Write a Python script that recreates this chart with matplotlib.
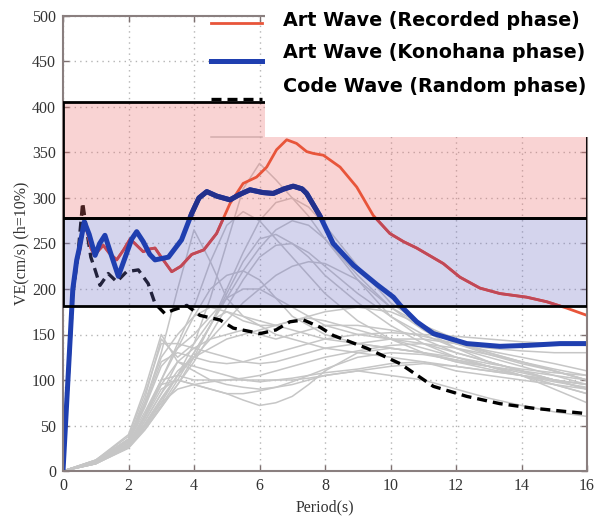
import matplotlib
matplotlib.use("Agg")
import matplotlib.pyplot as plt
from matplotlib.patches import Rectangle

# ---------------- data ----------------
red_T = [0, 0.15, 0.3, 0.42, 0.5, 0.64, 0.75, 0.85, 0.96, 1.1, 1.23, 1.4, 1.64, 1.85, 2.05, 2.25,
         2.45, 2.65, 2.81, 3.0, 3.32, 3.6, 3.93, 4.3, 4.69, 5.1, 5.5, 5.91, 6.22, 6.52, 6.83, 7.13,
         7.44, 7.64, 7.95, 8.46, 8.97, 9.47, 9.98, 10.4, 10.8, 11.61, 12.12, 12.73, 13.34, 14.16,
         14.77, 15.38, 16]
red_V = [0, 100, 195, 230, 240, 272, 262, 245, 237, 243, 248, 240, 232, 243, 255, 248,
         241, 244, 245, 235, 219, 225, 238, 243, 261, 294, 316, 323, 334, 353, 364, 360,
         351, 349, 347, 334, 312, 281, 261, 252, 245, 228, 213, 201, 195, 191,
         186, 179, 171]

blue_T = [0, 0.15, 0.3, 0.42, 0.5, 0.65, 0.8, 0.98, 1.12, 1.28, 1.45, 1.69, 1.9, 2.1, 2.25, 2.45,
          2.65, 2.81, 3.22, 3.62, 3.93, 4.15, 4.39, 4.7, 5.1, 5.4, 5.71, 6.1, 6.42, 6.75, 7.03,
          7.3, 7.44, 7.85, 8.25, 8.87, 9.58, 10.09, 10.3, 10.8, 11.31, 12.33, 13.34, 14.16,
          15.18, 16]
blue_V = [0, 100, 200, 232, 245, 274, 260, 237, 250, 259, 240, 214, 235, 255, 263, 252,
          238, 232, 235, 254, 283, 300, 307, 302, 298, 304, 309, 306, 305, 310, 313,
          310, 305, 280, 250, 226, 205, 191, 182, 164, 151, 140, 137, 138,
          140, 140]

code_T = [0, 0.3, 0.45, 0.6, 0.7, 0.85, 0.98, 1.13, 1.38, 1.64, 1.94, 2.3, 2.6, 2.81, 3.11, 3.37,
          3.78, 4.18, 4.79, 5.2, 6.02, 6.5, 6.93, 7.34, 7.85, 8.25, 9.27, 10.29, 11.31, 12.33,
          13.34, 14.36, 16]
code_V = [0, 195, 235, 295, 270, 235, 221, 204, 217, 208, 219, 221, 206, 184, 173, 177,
          182, 171, 166, 157, 151, 155, 164, 166, 158, 149, 135, 118, 93, 82,
          74, 69, 63]

gray_T = [0, 1, 2, 2.5, 3, 3.5, 4, 4.5, 5, 5.5, 6, 6.5, 7, 7.5, 8, 9, 10, 11, 12, 13, 14, 15, 16]
gray_1 = [0, 12, 35, 80, 145, 125, 140, 165, 175, 170, 160, 150, 145, 140, 135, 130, 125, 120, 110, 105, 100, 95, 90]
gray_2 = [0, 12, 40, 90, 150, 120, 115, 110, 105, 100, 98, 100, 102, 105, 108, 112, 118, 120, 115, 110, 105, 100, 95]
gray_3 = [0, 10, 35, 75, 130, 200, 265, 230, 190, 170, 165, 160, 155, 150, 145, 140, 135, 130, 122, 115, 108, 100, 95]
gray_4 = [0, 8, 28, 50, 75, 105, 140, 190, 250, 310, 338, 320, 300, 280, 255, 215, 180, 160, 140, 130, 120, 110, 100]
gray_5 = [0, 9, 30, 60, 100, 140, 180, 230, 270, 285, 275, 255, 235, 215, 195, 165, 145, 130, 120, 115, 110, 105, 100]
gray_6 = [0, 10, 30, 60, 95, 100, 95, 90, 85, 78, 72, 75, 82, 95, 110, 130, 135, 130, 120, 112, 105, 98, 92]
gray_7 = [0, 11, 33, 65, 100, 105, 100, 100, 100, 100, 100, 100, 100, 102, 105, 110, 115, 118, 115, 110, 105, 95, 85]
gray_8 = [0, 8, 25, 45, 70, 95, 120, 150, 180, 210, 235, 248, 250, 240, 225, 195, 170, 150, 135, 125, 115, 105, 95]
gray_9 = [0, 8, 26, 48, 72, 100, 130, 160, 190, 220, 245, 265, 275, 270, 255, 210, 170, 145, 130, 120, 110, 100, 90]
gray_10 = [0, 9, 28, 52, 80, 105, 125, 145, 165, 185, 200, 215, 225, 230, 228, 210, 180, 155, 135, 120, 110, 100, 90]
gray_11 = [0, 10, 32, 70, 115, 135, 150, 170, 190, 200, 200, 190, 180, 170, 160, 150, 145, 140, 130, 120, 110, 100, 90]
gray_12 = [0, 9, 28, 55, 85, 110, 125, 135, 145, 150, 155, 160, 165, 170, 175, 180, 175, 160, 145, 130, 120, 110, 100]
gray_13 = [0, 12, 38, 85, 140, 140, 135, 130, 125, 120, 118, 120, 125, 130, 135, 140, 145, 145, 140, 135, 132, 130, 130]
gray_14 = [0, 10, 28, 55, 85, 120, 110, 100, 95, 92, 90, 92, 95, 100, 105, 110, 105, 100, 90, 80, 72, 65, 60]
gray_15 = [0, 8, 27, 50, 78, 105, 130, 160, 195, 230, 255, 260, 250, 235, 215, 185, 160, 140, 125, 115, 105, 95, 85]
gray_16 = [0, 11, 35, 75, 125, 150, 170, 180, 175, 165, 160, 160, 165, 168, 165, 155, 145, 135, 125, 115, 105, 100, 95]
gray_17 = [0, 10, 30, 62, 100, 135, 170, 200, 215, 220, 210, 190, 170, 160, 150, 140, 135, 130, 125, 118, 112, 108, 105]
gray_18 = [0, 9, 27, 50, 75, 90, 95, 98, 100, 102, 105, 110, 115, 120, 125, 132, 138, 140, 135, 128, 120, 112, 105]
gray_19 = [0, 8, 26, 46, 70, 95, 125, 160, 200, 240, 275, 295, 300, 290, 270, 225, 185, 160, 140, 128, 118, 110, 100]
gray_20 = [0, 10, 30, 60, 95, 120, 135, 145, 150, 155, 150, 145, 150, 155, 160, 160, 155, 148, 140, 132, 125, 118, 110]
gray_21 = [0, 11, 34, 72, 120, 130, 125, 120, 118, 120, 125, 130, 135, 140, 145, 150, 152, 150, 148, 145, 142, 140, 138]
gray_22 = [0, 10, 29, 58, 90, 100, 95, 90, 85, 85, 88, 92, 98, 105, 112, 125, 130, 128, 122, 115, 105, 90, 75]
gray_curves = [gray_1, gray_2, gray_3, gray_4, gray_5, gray_6, gray_7, gray_8, gray_9, gray_10, gray_11,
               gray_12, gray_13, gray_14, gray_15, gray_16, gray_17, gray_18, gray_19, gray_20, gray_21, gray_22]

red_band = (278, 405)
blue_band = (181, 278)

x_ticks = [0, 2, 4, 6, 8, 10, 12, 14, 16]
y_ticks = [0, 50, 100, 150, 200, 250, 300, 350, 400, 450, 500]
legend_labels = ["Art Wave (Recorded phase)", "Art Wave (Konohana phase)", "Code Wave (Random phase)"]

# ---------------- figure ----------------
W, H = 614, 518
fig = plt.figure(figsize=(W / 100, H / 100), dpi=100)
ax = fig.add_axes([63 / W, 1 - 471 / H, (587 - 63) / W, (471 - 16) / H])

serif = ["Liberation Serif", "DejaVu Serif"]

gray_lines = []
for g in gray_curves:
    ln, = ax.plot(gray_T, g, color="#c6c6c6", lw=1.1, zorder=1)
    gray_lines.append(ln)

code_ln, = ax.plot(code_T, code_V, color="black", lw=2.4, linestyle=(0, (3.0, 1.8)), zorder=1.5)

# shaded bands (tint the grey curves below them)
red_span = ax.axhspan(*red_band, facecolor=(238 / 255, 112 / 255, 112 / 255, 0.3), edgecolor="none", zorder=2.5)
blue_span = ax.axhspan(*blue_band, facecolor=(115 / 255, 115 / 255, 198 / 255, 0.3), edgecolor="none", zorder=2.5)

red_ln, = ax.plot(red_T, red_V, color="#e8553a", lw=2.0, zorder=5)
blue_ln, = ax.plot(blue_T, blue_V, color="#1f3fb0", lw=3.6, zorder=5.1)
# darker tones of the main curves where they cross the other band
red_in_blue, = ax.plot(red_T, red_V, color="#c04858", lw=2.0, zorder=5.05)
red_in_blue.set_clip_path(blue_span)
blue_in_red, = ax.plot(blue_T, blue_V, color="#23308c", lw=3.6, zorder=5.15)
blue_in_red.set_clip_path(red_span)

ax.set_xlim(0, 16)
ax.set_ylim(0, 500)
ax.set_xticks(x_ticks)
ax.set_yticks(y_ticks)
ax.grid(True, linestyle=(0, (1, 3)), color="#b4b4b4", lw=1.0)
ax.set_axisbelow(True)
ax.tick_params(direction="in", length=4, width=1, color="#7d7070", labelcolor="#333333",
               labelsize=11.5, top=True, right=True, pad=5)
for lab in ax.get_xticklabels() + ax.get_yticklabels():
    lab.set_family(serif)
for s in ax.spines.values():
    s.set_color("#8a7f7f")
    s.set_linewidth(1.5)
    s.set_zorder(7)

# band outlines (above the spines, as in the reference)
ax.axhspan(*red_band, facecolor="none", edgecolor="black", lw=2, zorder=8)
ax.axhspan(*blue_band, facecolor="none", edgecolor="black", lw=2, zorder=8)

ax.set_xlabel("Period(s)", family=serif, fontsize=11.5, color="#333333", labelpad=4)
ax.set_ylabel("VE(cm/s) (h=10%)", family=serif, fontsize=11.5, color="#333333", labelpad=2)

leg = ax.legend([red_ln, blue_ln, code_ln, gray_lines[0]], [" ", " ", " ", " "],
                loc="upper left", bbox_to_anchor=(211 / W, 1 - 15 / H), bbox_transform=fig.transFigure,
                frameon=False, fontsize=10, handleheight=2.0, handlelength=3.67, labelspacing=1.2,
                borderpad=0, borderaxespad=0, handletextpad=0.2)
leg.set_zorder(2)

fig.add_artist(Rectangle((265 / W, 1 - 137 / H), 1 - 265 / W, 137 / H, transform=fig.transFigure,
                         facecolor="white", edgecolor="none", zorder=10))
for lbl, yc in zip(legend_labels, [20, 52, 86]):
    fig.text(283 / W, 1 - yc / H, lbl, ha="left", va="center", fontsize=13.8,
             fontweight="bold", family="DejaVu Sans", color="black", zorder=11)

fig.savefig("out.png", dpi=100)
